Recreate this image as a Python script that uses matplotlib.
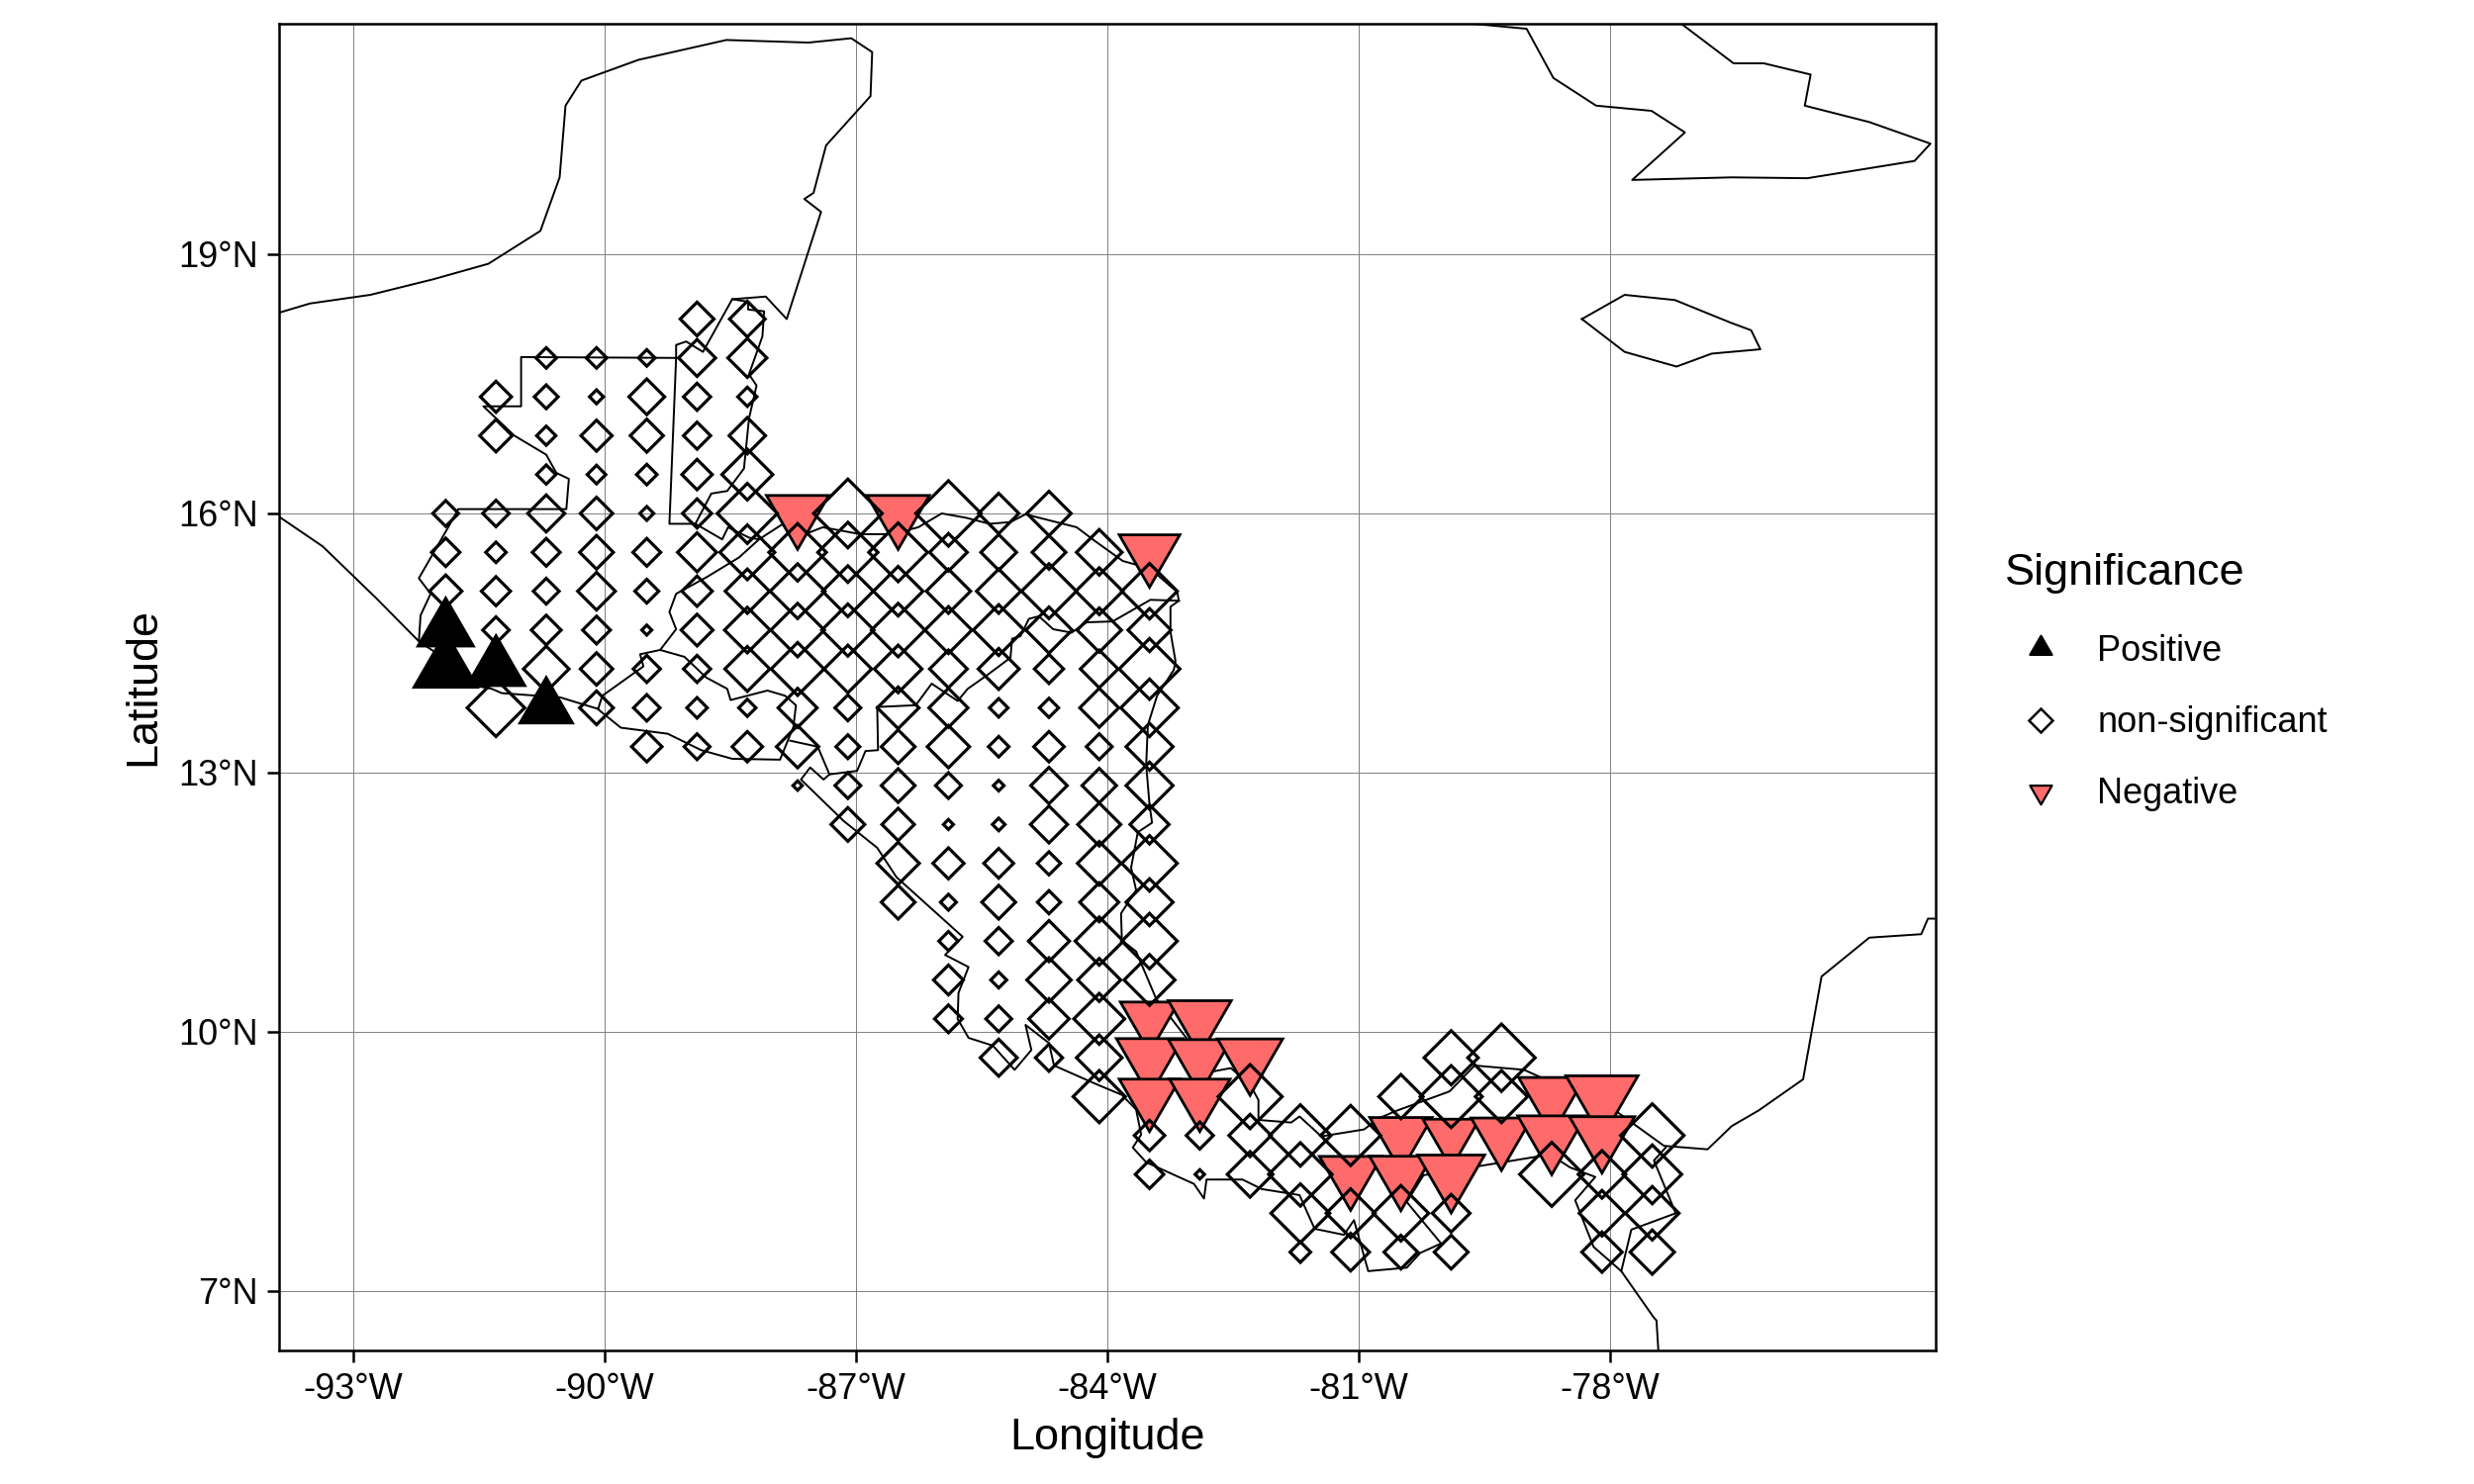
import numpy as np
import matplotlib
matplotlib.use("Agg")
import matplotlib.pyplot as plt
from matplotlib.lines import Line2D
from matplotlib.path import Path

plt.rcParams["font.family"] = ["Liberation Sans", "DejaVu Sans"]

DPI = 200

# non-significant cells, one line per latitude row
ns_lat = [18.25] * 2 + [17.8] * 5 + [17.35] * 6 + [16.9] * 6 + [16.45] * 5
ns_lon = [-88.9, -88.3,
          -90.7, -90.1, -89.5, -88.9, -88.3,
          -91.3, -90.7, -90.1, -89.5, -88.9, -88.3,
          -91.3, -90.7, -90.1, -89.5, -88.9, -88.3,
          -90.7, -90.1, -89.5, -88.9, -88.3]
ns_val = [52, 55,
          32, 32, 26, 57, 60,
          48, 37, 22, 55, 42, 30,
          50, 30, 48, 51, 42, 56,
          30, 29, 32, 47, 78]

ns_lat += [16.0] * 11
ns_lon += [-91.9, -91.3, -90.7, -90.1, -89.5, -88.9, -88.3, -87.1, -85.9, -85.3, -84.7]
ns_val += [40, 41, 57, 50, 22, 45, 92, 105, 100, 62, 68]
ns_lat += [15.55] * 14
ns_lon += [-91.9, -91.3, -90.7, -90.1, -89.5, -88.9, -88.3, -87.7, -87.1, -86.5, -85.9, -85.3, -84.7, -84.1]
ns_val += [44, 32, 43, 52, 43, 60, 84, 88, 92, 90, 58, 55, 52, 70]
ns_lat += [15.1] * 15
ns_lon += [-91.9, -91.3, -90.7, -90.1, -89.5, -88.9, -88.3, -87.7, -87.1, -86.5, -85.9, -85.3, -84.7, -84.1, -83.5]
ns_val += [50, 45, 40, 58, 37, 47, 68, 84, 78, 76, 68, 68, 84, 72, 85]
ns_lat += [14.65] * 14
ns_lon += [-91.3, -90.7, -90.1, -89.5, -88.9, -88.3, -87.7, -87.1, -86.5, -85.9, -85.3, -84.7, -84.1, -83.5]
ns_val += [41, 46, 43, 16, 49, 70, 82, 80, 82, 72, 78, 71, 68, 66]
ns_lat += [14.2] * 13
ns_lon += [-90.7, -90.1, -89.5, -88.9, -88.3, -87.7, -87.1, -86.5, -85.9, -85.3, -84.7, -84.1, -83.5]
ns_val += [70, 50, 42, 42, 69, 81, 73, 73, 58, 63, 45, 58, 93]
ns_lat += [13.75] * 13
ns_lon += [-91.3, -90.1, -89.5, -88.9, -88.3, -87.7, -87.1, -86.5, -85.9, -85.3, -84.7, -84.1, -83.5]
ns_val += [88, 52, 41, 32, 27, 60, 40, 64, 60, 29, 30, 60, 88]
ns_lat += [13.3] * 11
ns_lon += [-89.5, -88.9, -88.3, -87.7, -87.1, -86.5, -85.9, -85.3, -84.7, -84.1, -83.5]
ns_val += [47, 40, 47, 65, 37, 52, 65, 32, 47, 40, 72]
ns_lat += [12.85] * 8
ns_lon += [-87.7, -87.1, -86.5, -85.9, -85.3, -84.7, -84.1, -83.5]
ns_val += [15, 40, 52, 40, 17, 56, 53, 72]
ns_lat += [12.4] * 7
ns_lon += [-87.1, -86.5, -85.9, -85.3, -84.7, -84.1, -83.5]
ns_val += [52, 50, 16, 20, 57, 66, 60]
ns_lat += [11.95] * 6
ns_lon += [-86.5, -85.9, -85.3, -84.7, -84.1, -83.5]
ns_val += [65, 48, 46, 36, 67, 85]
ns_lat += [11.5] * 6
ns_lon += [-86.5, -85.9, -85.3, -84.7, -84.1, -83.5]
ns_val += [52, 25, 52, 36, 60, 72]
ns_lat += [11.05] * 5
ns_lon += [-85.9, -85.3, -84.7, -84.1, -83.5]
ns_val += [30, 42, 63, 74, 85]
ns_lat += [10.6] * 5
ns_lon += [-85.9, -85.3, -84.7, -84.1, -83.5]
ns_val += [46, 25, 68, 66, 78]
ns_lat += [10.15] * 4
ns_lon += [-85.9, -85.3, -84.7, -84.1]
ns_val += [43, 40, 62, 78]
ns_lat += [9.7] * 5
ns_lon += [-85.3, -84.7, -84.1, -79.9, -79.3]
ns_val += [57, 42, 70, 83, 103]
ns_lat += [9.25] * 5
ns_lon += [-84.1, -82.3, -80.5, -79.9, -79.3]
ns_val += [80, 98, 68, 95, 80]
ns_lat += [8.8] * 6
ns_lon += [-83.5, -82.9, -82.3, -81.7, -81.1, -77.5]
ns_val += [47, 42, 65, 94, 92, 97]
ns_lat += [8.35] * 7
ns_lon += [-83.5, -82.9, -82.3, -81.7, -78.7, -78.1, -77.5]
ns_val += [44, 15, 70, 97, 98, 73, 90]
ns_lat += [7.9] * 6
ns_lon += [-81.7, -81.1, -80.5, -79.9, -78.1, -77.5]
ns_val += [90, 75, 85, 58, 70, 82]
ns_lat += [7.45] * 6
ns_lon += [-81.7, -81.1, -80.5, -79.9, -78.1, -77.5]
ns_val += [32, 58, 52, 52, 62, 68]

pos_lon = [-91.9, -91.9, -91.3, -90.7]
pos_lat = [14.65, 14.2, 14.2, 13.75]
pos_val = [103, 117, 107, 98]

neg_lon = [-87.7, -86.5, -83.5,
           -83.5, -82.9,
           -83.5, -82.9, -82.3,
           -83.5, -82.9, -78.7, -78.1,
           -80.5, -79.9, -79.3, -78.7, -78.1,
           -81.1, -80.5, -79.9]
neg_lat = [16.0, 16.0, 15.55,
           10.15, 10.15,
           9.7, 9.7, 9.7,
           9.25, 9.25, 9.25, 9.25,
           8.8, 8.8, 8.8, 8.8, 8.8,
           8.35, 8.35, 8.35]
neg_val = [115, 115, 112,
           108, 116,
           122, 116, 120,
           112, 112, 122, 132,
           115, 105, 112, 125, 120,
           115, 116, 123]

# coast and border lines, lon / lat
mexico_lon = [-93.9, -93.52, -92.8, -92.05, -91.39, -90.77, -90.54, -90.47, -90.28, -89.6, -88.55, -87.57, -87.06,
              -86.81, -86.83, -87.36, -87.51, -87.62, -87.42, -87.83, -88.08, -88.48, -88.83, -89.03, -89.15,
              -89.15, -89.23, -88.92]
mexico_lat = [18.32, 18.43, 18.53, 18.71, 18.89, 19.27, 19.89, 20.72, 21.01, 21.25, 21.48, 21.45, 21.5,
              21.34, 20.83, 20.26, 19.71, 19.64, 19.49, 18.25, 18.51, 18.48, 17.87, 17.99, 17.95,
              17.8, 15.88, 15.88]
belize_lon = [-88.92, -88.73, -88.54, -88.34, -88.28, -88.19, -88.28, -88.12, -88.1, -88.29, -88.29, -88.48]
belize_lat = [15.88, 16.23, 16.26, 16.52, 17.1, 17.48, 17.61, 18.05, 18.34, 18.36, 18.45, 18.48]
guatemala_lon = [-89.15, -91.0, -91.0, -91.45, -91.08, -90.7, -90.58, -90.43, -90.46, -91.75, -91.87, -92.22,
                 -92.08, -92.2, -92.22]
guatemala_lat = [17.8, 17.81, 17.24, 17.24, 16.9, 16.68, 16.47, 16.4, 16.05, 16.05, 15.84, 15.25,
                 15.07, 14.82, 14.52]
pacific_lon = [-93.9, -93.37, -92.73, -92.22, -92.02, -91.75, -91.35, -91.23, -90.53, -90.09, -89.81, -89.25,
               -88.85, -88.48, -87.91, -87.75, -87.72, -87.85, -88.06, -88.5, -88.54, -88.79, -89.05, -89.34,
               -89.58, -89.54, -90.03, -90.08]
pacific_lat = [15.97, 15.62, 15.02, 14.52, 14.39, 14.04, 13.97, 13.92, 13.87, 13.74, 13.52, 13.45,
               13.26, 13.16, 13.15, 13.53, 13.78, 13.89, 13.95, 13.84, 13.97, 14.1, 14.34, 14.42,
               14.37, 14.23, 13.89, 13.74]
salvador_lon = [-89.34, -89.15, -89.23, -89.15, -88.79, -88.4, -88.16]
salvador_lat = [14.42, 14.66, 14.86, 15.07, 15.26, 15.49, 15.7]
honduras_lon = [-88.92, -88.6, -88.53, -88.28, -88.16, -87.89, -87.56, -87.4, -86.95, -86.58, -86.26, -85.98,
                -85.69, -85.41, -85.16, -84.98, -84.37, -84.15, -83.82, -83.49, -83.17, -83.15]
honduras_lat = [15.88, 15.7, 15.84, 15.72, 15.7, 15.87, 15.78, 15.84, 15.76, 15.76, 15.84, 16.0,
                15.95, 15.88, 15.9, 15.99, 15.84, 15.68, 15.45, 15.36, 15.09, 14.99]
border_lon = [-83.15, -83.49, -83.94, -84.25, -84.43, -84.65, -84.82, -84.94, -85.04, -85.14, -85.16, -85.45,
              -85.67, -85.79, -86.1, -86.29, -86.75]
border_lat = [14.99, 15.0, 14.75, 14.74, 14.62, 14.66, 14.81, 14.78, 14.58, 14.55, 14.33, 14.12,
              13.97, 13.83, 14.03, 13.78, 13.76]
fonseca_lon = [-87.79, -87.46, -87.32]
fonseca_lat = [13.37, 13.3, 12.98]
nic_pacific_lon = [-86.75, -86.74, -86.89, -86.99, -87.32, -87.39, -87.55, -87.66, -87.15, -86.75, -86.52, -85.73,
                   -85.94, -85.66, -85.78, -85.79, -85.66, -85.37, -85.11, -84.91, -84.98, -84.7, -84.64, -84.15,
                   -83.83, -83.66, -83.6, -83.7, -83.54, -82.97, -82.85, -82.82, -82.39, -82.16, -81.71, -81.53,
                   -81.18, -81.06, -80.89, -80.43, -80.27, -80.02, -80.43, -80.23, -78.72, -78.48, -78.18, -78.42,
                   -78.2, -77.87, -77.75, -77.22, -77.48, -77.34]
nic_pacific_lat = [13.76, 13.26, 13.25, 13.02, 12.98, 12.92, 13.06, 12.92, 12.44, 12.13, 11.79, 11.1,
                   10.89, 10.75, 10.45, 10.15, 9.93, 9.84, 9.56, 9.79, 10.08, 9.87, 9.61, 9.4,
                   9.27, 9.1, 8.81, 8.66, 8.49, 8.24, 8.07, 8.29, 8.29, 8.18, 8.11, 7.72,
                   7.65, 7.82, 7.23, 7.27, 7.44, 7.55, 8.03, 8.34, 8.58, 8.43, 8.32, 8.05,
                   7.51, 7.23, 7.71, 7.9, 8.51, 8.66]
caribbean_lon = [-83.15, -83.25, -83.25, -83.19, -83.21, -83.41, -83.52, -83.54, -83.5, -83.47, -83.64, -83.72,
                 -83.66, -83.84, -83.83, -83.66, -83.42, -82.75, -82.53, -82.3, -82.2, -82.2, -81.81, -81.71,
                 -81.45, -80.94, -80.76, -80.57, -79.92, -79.62, -79.03, -77.93, -77.36, -76.84, -76.55, -76.23,
                 -75.7, -75.48, -74.91, -74.29, -74.21, -74.1]
caribbean_lat = [14.99, 14.92, 14.63, 14.29, 14.19, 13.89, 13.55, 13.09, 12.63, 12.42, 12.31, 11.9,
                 11.64, 11.37, 11.06, 10.93, 10.38, 9.54, 9.58, 9.39, 9.21, 8.98, 8.95, 9.02,
                 8.79, 8.87, 9.0, 9.08, 9.31, 9.61, 9.56, 9.08, 8.68, 8.64, 8.91, 9.09,
                 9.45, 10.64, 11.09, 11.13, 11.31, 11.31]
colombia_lon = [-77.87, -77.48, -77.45, -77.42]
colombia_lat = [7.23, 6.69, 6.66, 6.2]
cuba_lon = [-79.78, -79.0, -78.68, -78.17, -77.51, -77.11, -77.74, -76.55, -75.65, -74.37, -74.18, -74.91,
            -75.68, -75.61, -76.17, -76.53, -77.17]
cuba_lat = [21.68, 21.61, 21.04, 20.72, 20.66, 20.41, 19.86, 19.89, 19.88, 20.08, 20.28, 20.53,
            20.72, 21.08, 21.21, 21.21, 21.68]
jamaica_lon = [-78.34, -77.83, -77.23, -76.57, -76.32, -76.21, -76.79, -77.21, -77.83, -78.34]
jamaica_lat = [18.25, 18.53, 18.47, 18.21, 18.12, 17.9, 17.85, 17.7, 17.87, 18.25]

x_ticks = [-93, -90, -87, -84, -81, -78]
y_ticks = [7, 10, 13, 16, 19]
x_labels = ["-93°W", "-90°W", "-87°W", "-84°W", "-81°W", "-78°W"]
y_labels = ["7°N", "10°N", "13°N", "16°N", "19°N"]

lines = [(mexico_lon, mexico_lat), (belize_lon, belize_lat), (guatemala_lon, guatemala_lat),
         (pacific_lon, pacific_lat), (salvador_lon, salvador_lat), (honduras_lon, honduras_lat),
         (border_lon, border_lat), (fonseca_lon, fonseca_lat), (nic_pacific_lon, nic_pacific_lat),
         (caribbean_lon, caribbean_lat), (colombia_lon, colombia_lat), (cuba_lon, cuba_lat),
         (jamaica_lon, jamaica_lat)]

# apex up, flat base, same proportions as the plotting symbols in the original
tri_up = Path([(0, 1), (-0.866, -0.5), (0.866, -0.5), (0, 1)], closed=True)
tri_down = Path([(0, -1), (-0.866, 0.5), (0.866, 0.5), (0, -1)], closed=True)


def tri_area(val):
    r = (np.asarray(val, dtype=float) / 3 - 2) * 72 / DPI
    return (2 * r) ** 2


def diamond_area(val):
    r = (np.asarray(val, dtype=float) / 3 - 0.3) * 72 / DPI
    return (r / 0.7071) ** 2


fig = plt.figure(figsize=(12.5, 7.5), dpi=DPI)
ax = fig.add_axes([282.3 / 2500, 1 - 1365 / 1500, (1956 - 282.3) / 2500, (1365 - 24) / 1500])

for lon, lat in lines:
    ax.plot(lon, lat, color="black", lw=0.7, zorder=2)

ax.scatter(pos_lon, pos_lat, s=tri_area(pos_val), marker=tri_up, facecolor="black", edgecolor="black",
           linewidth=1.0, joinstyle="miter", zorder=3)
ax.scatter(neg_lon, neg_lat, s=tri_area(neg_val), marker=tri_down, facecolor="#ff6b6b", edgecolor="black",
           linewidth=1.0, joinstyle="miter", zorder=3)
ax.scatter(ns_lon, ns_lat, s=diamond_area(ns_val), marker="D", facecolor="none", edgecolor="black",
           linewidth=1.15, joinstyle="miter", zorder=4)

ax.set_xlim(-93.885, -74.118)
ax.set_ylim(6.312, 21.668)
ax.set_xticks(x_ticks)
ax.set_xticklabels(x_labels)
ax.set_yticks(y_ticks)
ax.set_yticklabels(y_labels)
ax.tick_params(labelsize=13, length=4.3, width=0.9, pad=3.5)
ax.grid(True, color="#808080", lw=0.35)
ax.set_axisbelow(True)
for spine in ax.spines.values():
    spine.set_linewidth(0.9)
ax.set_xlabel("Longitude", fontsize=16.2, labelpad=4.2)
ax.set_ylabel("Latitude", fontsize=16.2, labelpad=5.3)

handles = [
    Line2D([], [], ls="none", marker=tri_up, ms=9.2, mfc="black", mec="black", mew=0.8),
    Line2D([], [], ls="none", marker="D", ms=6, mfc="none", mec="black", mew=0.9),
    Line2D([], [], ls="none", marker=tri_down, ms=9.2, mfc="#ff6b6b", mec="black", mew=0.8),
]
leg = fig.legend(handles, ["Positive", "non-significant", "Negative"], title="Significance", loc="upper left",
                 bbox_to_anchor=(1993 / 2500, 1 - 527 / 1500), frameon=False, fontsize=13, title_fontsize=16.2,
                 labelspacing=1.03, handletextpad=0.6, alignment="left")
leg._legend_box.sep += 1.2

fig.savefig("out.png", dpi=DPI)
